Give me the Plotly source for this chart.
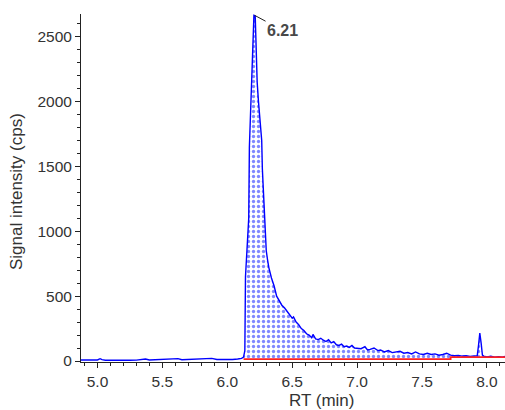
import plotly.graph_objects as go

# Chromatogram (RT in min, intensity in cps)
rt = [4.873, 4.92, 4.96, 5.00, 5.02, 5.035, 5.06, 5.10, 5.15, 5.20, 5.25, 5.30, 5.34, 5.37, 5.40,
      5.45, 5.50, 5.55, 5.59, 5.62, 5.65, 5.70, 5.75, 5.80, 5.85, 5.88, 5.92, 5.96, 6.00, 6.04,
      6.08, 6.11, 6.125, 6.135, 6.14, 6.15, 6.155, 6.16, 6.165, 6.17, 6.18, 6.19, 6.20, 6.205,
      6.215, 6.22, 6.23, 6.24, 6.25, 6.265, 6.27, 6.28, 6.29, 6.30, 6.31, 6.32, 6.34, 6.36,
      6.38, 6.40, 6.42, 6.44, 6.46, 6.48, 6.50, 6.51, 6.53, 6.55, 6.57, 6.59, 6.61, 6.63, 6.65,
      6.66, 6.68, 6.70, 6.72, 6.74, 6.76, 6.78, 6.80, 6.82, 6.84, 6.86, 6.88, 6.90, 6.92, 6.94,
      6.96, 6.98, 7.00, 7.03, 7.06, 7.08, 7.10, 7.13, 7.16, 7.18, 7.21, 7.24, 7.27, 7.30, 7.33,
      7.36, 7.39, 7.42, 7.45, 7.48, 7.51, 7.54, 7.57, 7.60, 7.63, 7.66, 7.69, 7.72, 7.75, 7.78,
      7.81, 7.84, 7.87, 7.90, 7.925, 7.935, 7.945, 7.955, 7.965, 7.975, 8.00, 8.03, 8.06, 8.09,
      8.12, 8.139]
intensity = [8, 6, 7, 8, 18, 10, 6, 5, 6, 5, 6, 7, 9, 15, 8,
             9, 10, 11, 12, 18, 10, 11, 12, 14, 16, 20, 12, 11, 14, 12,
             15, 20, 30, 80, 650, 820, 880, 1040, 1100, 1650, 1950, 2250, 2500, 2665,
             2660, 2460, 2150, 2000, 1850, 1700, 1480, 1270, 1000, 850, 780, 720, 640, 580,
             500, 460, 430, 410, 380, 350, 330, 340, 300, 280, 250, 235, 210, 200, 180,
             205, 170, 165, 175, 160, 150, 165, 140, 150, 125, 120, 130, 110, 115, 105,
             120, 100, 100, 95, 110, 85, 90, 100, 80, 85, 70, 80, 65, 70, 75,
             60, 65, 55, 70, 55, 50, 60, 50, 55, 45, 50, 60, 45, 40, 42,
             38, 40, 36, 38, 40, 120, 215, 140, 45, 38, 32, 36, 30, 34,
             30, 35]

# Integration baseline
base_rt = [6.125, 7.72, 7.72, 8.139]
base_int = [15, 15, 30, 30]

peak_rt = 6.21
peak_int = 2665
peak_label = "6.21"

x_ticks = [5.0, 5.5, 6.0, 6.5, 7.0, 7.5, 8.0]
y_ticks = [0, 500, 1000, 1500, 2000, 2500]

start = rt.index(6.125)
fig = go.Figure()
fig.add_trace(go.Scatter(x=base_rt, y=base_int, mode="lines", line=dict(width=0),
                         showlegend=False, hoverinfo="skip"))
fig.add_trace(go.Scatter(x=rt[start:], y=intensity[start:], mode="lines",
                         line=dict(color="rgba(0,0,0,0)", width=0), fill="tonexty",
                         fillcolor="white",
                         fillpattern=dict(shape=".", fgcolor="#0010ff", bgcolor="white",
                                          size=5, solidity=0.35),
                         showlegend=False, hoverinfo="skip"))
fig.add_trace(go.Scatter(x=rt, y=intensity, mode="lines",
                         line=dict(color="#0000ff", width=1.4), showlegend=False))
fig.add_trace(go.Scatter(x=base_rt, y=base_int, mode="lines",
                         line=dict(color="#ff2020", width=1.8), showlegend=False))

fig.add_annotation(x=peak_rt, y=peak_int, text="<b>" + peak_label + "</b>",
                   showarrow=True, arrowhead=0, arrowwidth=1, arrowcolor="#222",
                   ax=28, ay=15, font=dict(family="Liberation Sans", size=16, color="#484848"))

title_font = dict(family="Liberation Sans", size=17, color="#333")
fig.add_annotation(xref="paper", yref="paper", x=(322 - 81) / 424, y=0, yshift=-38,
                   text="RT (min)", showarrow=False, font=title_font,
                   xanchor="center", yanchor="middle")
fig.add_annotation(xref="paper", yref="paper", x=0, xshift=-64.5, y=(362 - 191.5) / 348,
                   text="Signal intensity (cps)", showarrow=False, font=title_font,
                   textangle=-90, xanchor="center", yanchor="middle")

axis_font = dict(family="Liberation Sans", size=15.5, color="#333")
fig.update_layout(
    width=505, height=410,
    margin=dict(l=81, r=0, t=14, b=48),
    paper_bgcolor="white", plot_bgcolor="white",
    font=axis_font,
    xaxis=dict(range=[4.873, 8.139], tickvals=x_ticks, ticktext=[f"{v:.1f}" for v in x_ticks],
               automargin=False,
               showgrid=False, zeroline=False, showline=True, linecolor="#222", linewidth=1,
               ticks="outside", ticklen=5, tickcolor="#222",
               minor=dict(dtick=0.1, ticks="outside", ticklen=3, tickcolor="#222")),
    yaxis=dict(range=[-7.7, 2675], tickvals=y_ticks, automargin=False,
               showgrid=False, zeroline=False,
               showline=True, linecolor="#222", linewidth=1,
               ticks="outside", ticklen=5, tickcolor="#222",
               minor=dict(dtick=100, ticks="outside", ticklen=3, tickcolor="#222")),
)

fig.write_html("out.html", config={"displayModeBar": False},
               post_script="document.body.style.margin='0';")
